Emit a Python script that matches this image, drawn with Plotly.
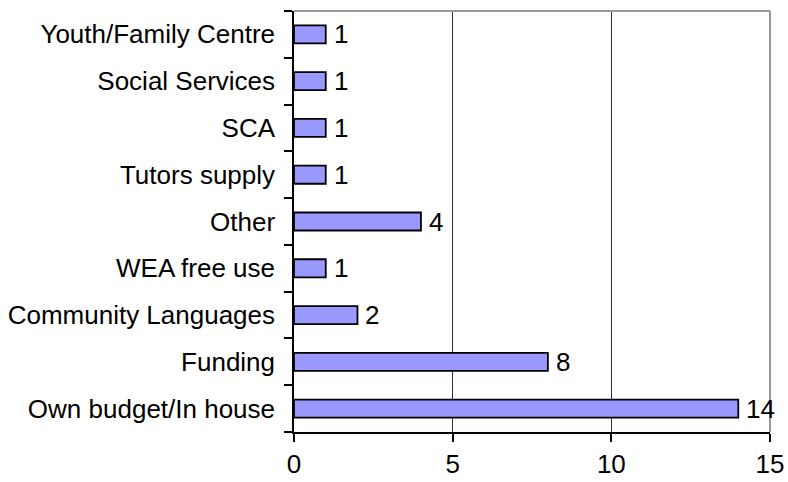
import plotly.graph_objects as go

# Sources of provision, listed bottom to top
categories = [
    "Own budget/In house",
    "Funding",
    "Community Languages",
    "WEA free use",
    "Other",
    "Tutors supply",
    "SCA",
    "Social Services",
    "Youth/Family Centre",
]
counts = [14, 8, 2, 1, 4, 1, 1, 1, 1]
x_ticks = [0, 5, 10, 15]

FONT = dict(family="Liberation Sans, Arial, sans-serif", size=26, color="black")

fig = go.Figure()
fig.add_trace(go.Bar(
    y=categories,
    x=counts,
    orientation="h",
    marker=dict(color="#9999FF", line=dict(color="black", width=1.8)),
    hoverinfo="x+y",
))

# value labels just past the end of each bar
for cat, val in zip(categories, counts):
    fig.add_annotation(
        x=val, y=cat, text=str(val), showarrow=False,
        xanchor="left", yanchor="middle", xshift=6,
        font=FONT,
    )

# grey frame on the top and right of the plot area
fig.add_shape(type="line", xref="paper", yref="paper", x0=0, x1=1, y0=1, y1=1,
              line=dict(color="#999999", width=2), layer="above")
fig.add_shape(type="line", xref="paper", yref="paper", x0=1, x1=1, y0=0, y1=1,
              line=dict(color="#999999", width=2), layer="above")

fig.update_layout(
    template="none",
    width=788, height=482,
    margin=dict(l=294, r=18, t=11, b=50, autoexpand=False),
    plot_bgcolor="white", paper_bgcolor="white",
    font=FONT,
    bargap=0.615,
    showlegend=False,
    xaxis=dict(
        range=[0, 15], tickvals=x_ticks, ticktext=[str(v) for v in x_ticks],
        showgrid=True, gridcolor="#333333", gridwidth=1,
        showline=True, linecolor="black", linewidth=1.5,
        ticks="outside", ticklen=8, tickcolor="black", tickwidth=1.5,
        zeroline=False, fixedrange=True, automargin=False,
    ),
    yaxis=dict(
        categoryorder="array", categoryarray=categories,
        showgrid=False, showline=True, linecolor="black", linewidth=1.5,
        ticks="outside", ticklen=8, tickcolor="black", tickwidth=1.5,
        tickson="boundaries", ticklabelstandoff=12,
        zeroline=False, fixedrange=True, automargin=False,
    ),
)

fig.write_html("out.html")
